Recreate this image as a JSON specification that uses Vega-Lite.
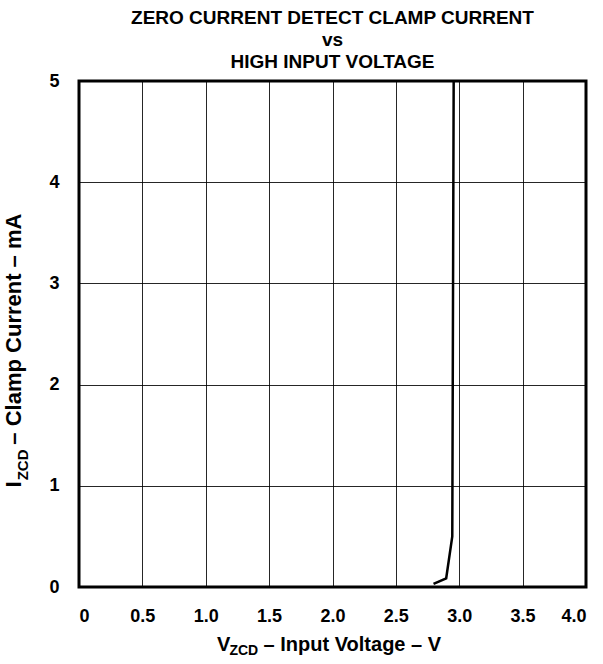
{
  "$schema": "https://vega.github.io/schema/vega-lite/v6.json",
  "autosize": {"type": "none"},
  "padding": {"left": 79, "top": 81, "right": 17, "bottom": 77},
  "width": 507,
  "height": 506,
  "background": "white",
  "config": {
    "font": "Liberation Sans",
    "view": {"stroke": "black", "strokeWidth": 3},
    "axis": {
      "grid": true,
      "gridColor": "black",
      "gridWidth": 1,
      "gridOpacity": 0.85,
      "domain": false,
      "ticks": false,
      "labelFont": "Liberation Sans",
      "labelFontSize": 18,
      "labelFontWeight": "bold",
      "labelColor": "black",
      "titleFont": "Liberation Sans",
      "titleFontWeight": "bold",
      "titleColor": "black"
    }
  },
  "title": {
    "text": ["ZERO CURRENT DETECT CLAMP CURRENT", "vs", "HIGH INPUT VOLTAGE"],
    "font": "Liberation Sans",
    "fontSize": 19,
    "fontWeight": "bold",
    "color": "black",
    "lineHeight": 22,
    "anchor": "middle",
    "offset": 0
  },
  "data": {
    "values": [
      {"voltage": 2.797, "current": 0.03},
      {"voltage": 2.897, "current": 0.086},
      {"voltage": 2.945, "current": 0.5},
      {"voltage": 2.956, "current": 5.0}
    ]
  },
  "layer": [
    {
      "mark": {"type": "line", "color": "black", "strokeWidth": 2.5, "clip": true},
      "encoding": {
        "x": {
          "field": "voltage",
          "type": "quantitative",
          "scale": {"domain": [0, 4], "nice": false, "zero": false},
          "axis": {
            "values": [0, 0.5, 1, 1.5, 2, 2.5, 3, 3.5, 4],
            "labelExpr": "datum.value == 0 ? '0' : format(datum.value, '.1f')",
            "labelPadding": 20,
            "titleFontSize": 20,
            "titlePadding": 9,
            "titleX": 249.5,
            "title": "V\u00a0\u00a0\u00a0\u00a0\u00a0\u00a0– Input Voltage – V"
          }
        },
        "y": {
          "field": "current",
          "type": "quantitative",
          "scale": {"domain": [0, 5], "nice": false, "zero": false},
          "axis": {
            "values": [0, 1, 2, 3, 4, 5],
            "format": "d",
            "labelPadding": 20,
            "titleFontSize": 22,
            "titlePadding": 23,
            "titleY": 269,
            "title": "I\u00a0\u00a0\u00a0\u00a0\u00a0\u00a0– Clamp Current – mA"
          }
        }
      }
    },
    {
      "data": {"values": [{"sub": "ZCD"}]},
      "mark": {"type": "text", "font": "Liberation Sans", "fontSize": 14, "fontWeight": "bold", "color": "black", "align": "left", "baseline": "alphabetic"},
      "encoding": {
        "text": {"field": "sub"},
        "x": {"datum": 1.187},
        "y": {"datum": -0.672}
      }
    },
    {
      "data": {"values": [{"sub": "ZCD"}]},
      "mark": {"type": "text", "font": "Liberation Sans", "fontSize": 15, "fontWeight": "bold", "color": "black", "align": "left", "baseline": "alphabetic", "angle": 270},
      "encoding": {
        "text": {"field": "sub"},
        "x": {"datum": -0.403},
        "y": {"datum": 1.054}
      }
    }
  ]
}
